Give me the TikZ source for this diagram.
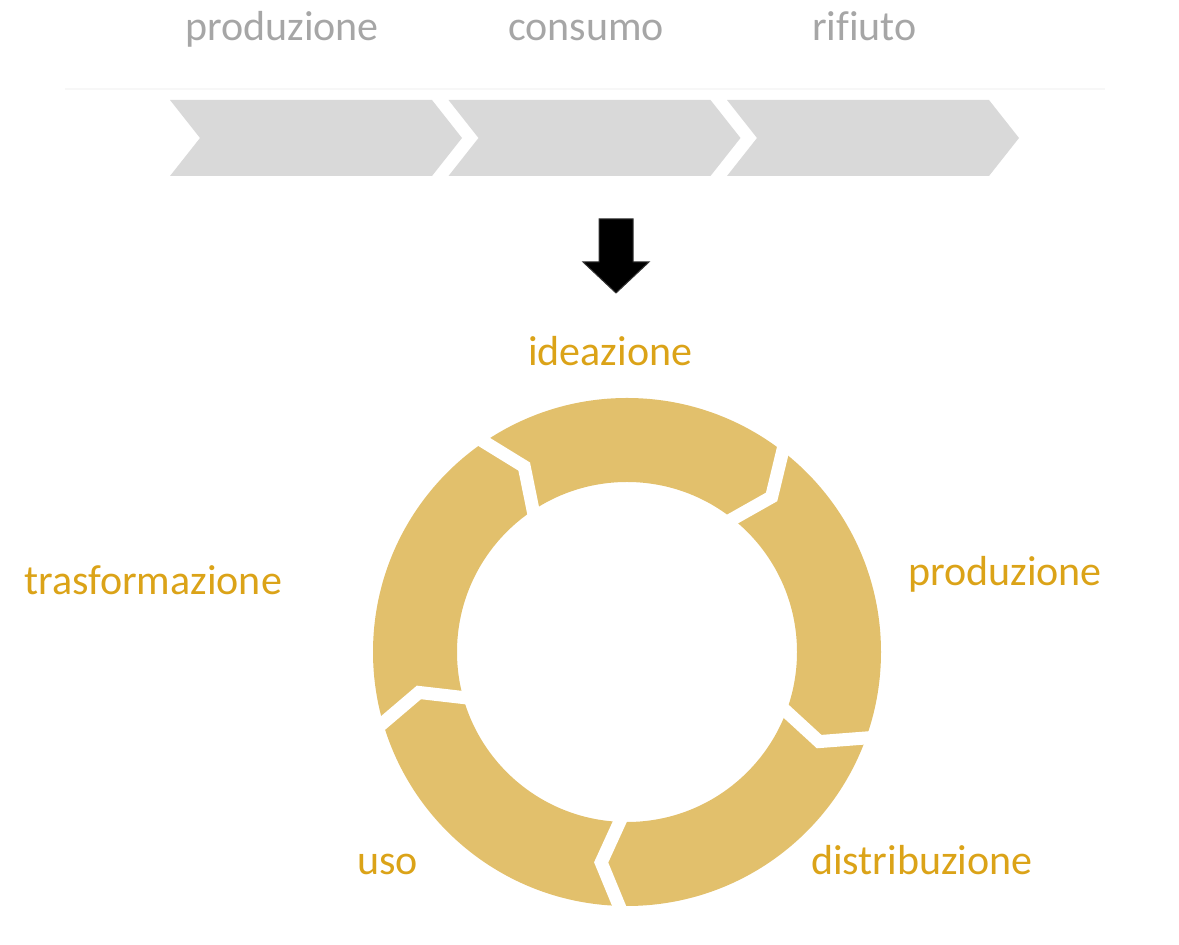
\documentclass[tikz,border=0pt]{standalone}
\usepackage{fontspec}
\setmainfont{Carlito}[Ligatures=NoCommon]
\definecolor{ocra}{RGB}{226,192,108}
\definecolor{oro}{RGB}{219,163,24}
\definecolor{grigio}{RGB}{166,166,166}
\definecolor{chiaro}{RGB}{217,217,217}
\begin{document}
\begin{tikzpicture}[
        x=1pt, y=1pt,
        every node/.style={inner sep=0pt, anchor=base west, font=\fontsize{42}{50}\selectfont},
        fase/.style={text=grigio},
        ciclo/.style={text=oro},
        chevron/.style={fill=chiaro},
        taglio/.style={draw=white, line width=13pt, line join=miter},
    ]
    \useasboundingbox (0,0) rectangle (1179,945);
    % modello lineare
    \draw[gray!6, line width=2pt] (65,856) -- (1105,856);
    \foreach \i in {0,1,2}{
        \pgfmathsetmacro{\L}{170+278.5*\i}
        \fill[chevron] (\L,845) -- ++(262,0) -- ++(30,-38) -- ++(-30,-38) -- ++(-262,0) -- ++(30,38) -- cycle;
    }
    \node[fase](produzione) at (185,904){produzione};
    \node[fase](consumo) at (508,904){consumo};
    \node[fase](rifiuto) at (812,904){rifiuto};
    % freccia
    \draw[fill=black, draw=black!80, line width=1pt] (599,726) -- (633,726) -- (633,683) -- (649,683)
        -- (616,652) -- (583,683) -- (599,683) -- cycle;
    % modello circolare
    \fill[ocra, even odd rule] (627,293) circle[radius=254pt] (627,293) circle[radius=170pt];
    \begin{scope}[shift={(627,293)}]
        \foreach \g in {125,53,-19,-91,-163}
            \draw[taglio] (\g:262pt) -- (\g-6:212pt) -- (\g:160pt);
    \end{scope}
    \node[ciclo](ideazione) at (528,579){ideazione};
    \node[ciclo](produzione2) at (908,359){produzione};
    \node[ciclo](distribuzione) at (811,70){distribuzione};
    \node[ciclo](uso) at (357,70){uso};
    \node[ciclo](trasformazione) at (24,350){trasformazione};
\end{tikzpicture}
\end{document}
